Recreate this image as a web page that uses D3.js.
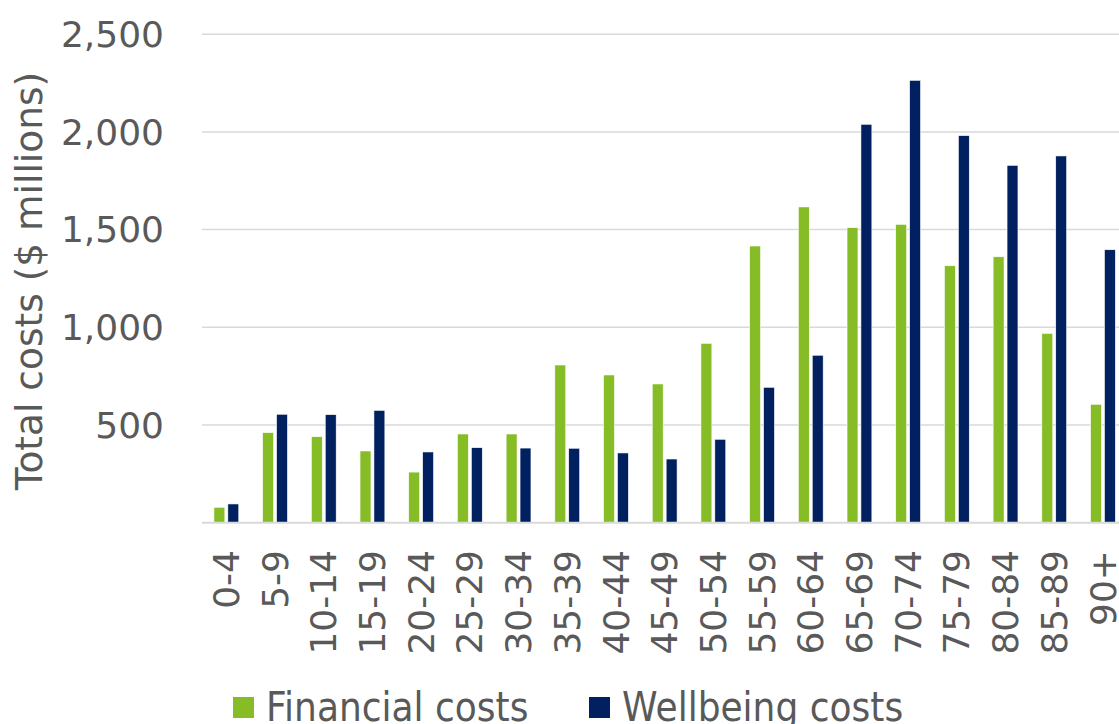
<!DOCTYPE html>
<html>
<head>
<meta charset="utf-8">
<script src="https://cdn.jsdelivr.net/npm/d3@7"></script>
<style>
  html, body { margin: 0; padding: 0; background: #ffffff; overflow: hidden; }
  svg { display: block; }
  text { font-family: "DejaVu Sans", Verdana, sans-serif; fill: #595959; }
</style>
</head>
<body>
<script>
const categories = ["0-4","5-9","10-14","15-19","20-24","25-29","30-34","35-39","40-44","45-49","50-54","55-59","60-64","65-69","70-74","75-79","80-84","85-89","90+"];
const financialCosts = [79, 461, 440, 367, 259, 454, 454, 807, 756, 710, 918, 1416, 1616, 1510, 1527, 1315, 1361, 969, 606];
const wellbeingCosts = [96, 555, 553, 575, 362, 384, 382, 381, 357, 326, 427, 693, 857, 2039, 2264, 1981, 1829, 1877, 1397];
const seriesNames = ["Financial costs", "Wellbeing costs"];
const seriesColors = ["#86bc25", "#002060"];
const yTicks = [500, 1000, 1500, 2000, 2500];
const yTitle = "Total costs ($ millions)";

const W = 1119, H = 724;
const plotLeft = 202, plotRight = 1127.3, plotTop = 34.2, plotBottom = 522.7;

const svg = d3.select("body").append("svg").attr("width", W).attr("height", H);

const y = d3.scaleLinear().domain([0, 2500]).range([plotBottom, plotTop]);
const x0 = d3.scaleBand().domain(categories).range([plotLeft, plotRight]).paddingInner(0.49).paddingOuter(0.245);
const x1 = d3.scaleBand().domain(seriesNames).range([0, x0.bandwidth()]).paddingInner(0.214);

// gridlines
svg.append("g").selectAll("line").data(yTicks).join("line")
  .attr("x1", plotLeft).attr("x2", W)
  .attr("y1", d => y(d)).attr("y2", d => y(d))
  .attr("stroke", "#d9d9d9").attr("stroke-width", 1.5);

// y tick labels
svg.append("g").selectAll("text").data(yTicks).join("text")
  .attr("x", 164).attr("y", d => y(d)).attr("dy", "0.35em")
  .attr("text-anchor", "end").attr("font-size", 36)
  .text(d => d3.format(",")(d));

// y title
svg.append("text")
  .attr("transform", `translate(42, 281) rotate(-90)`)
  .attr("text-anchor", "middle").attr("font-size", 37.5)
  .text(yTitle);

// bars
const data = categories.map((c, i) => ({ cat: c, vals: [financialCosts[i], wellbeingCosts[i]] }));
const groups = svg.append("g").selectAll("g").data(data).join("g")
  .attr("transform", d => `translate(${x0(d.cat)},0)`);
groups.selectAll("rect").data(d => d.vals.map((v, j) => ({ name: seriesNames[j], v, j })))
  .join("rect")
  .attr("x", d => x1(d.name))
  .attr("width", x1.bandwidth())
  .attr("y", d => y(d.v))
  .attr("height", d => y(0) - y(d.v))
  .attr("fill", d => seriesColors[d.j])
  .attr("stroke", "#ffffff").attr("stroke-width", 0.6);

// baseline
svg.append("line")
  .attr("x1", plotLeft).attr("x2", W)
  .attr("y1", y(0)).attr("y2", y(0))
  .attr("stroke", "#d9d9d9").attr("stroke-width", 2);

// x tick labels
svg.append("g").selectAll("text").data(categories).join("text")
  .attr("transform", d => `translate(${x0(d) + x0.bandwidth() / 2}, 550) rotate(-90)`)
  .attr("text-anchor", "end").attr("dy", "0.35em").attr("font-size", 36)
  .text(d => d);

// legend
const legendX = [233, 589];
const legend = svg.append("g").selectAll("g").data(seriesNames).join("g")
  .attr("transform", (d, i) => `translate(${legendX[i]}, 697)`);
legend.append("rect").attr("width", 21).attr("height", 21).attr("fill", (d, i) => seriesColors[i]);
legend.append("text")
  .attr("transform", "translate(33, 24) scale(0.9, 1)")
  .attr("font-size", 40)
  .text(d => d);
</script>
</body>
</html>
